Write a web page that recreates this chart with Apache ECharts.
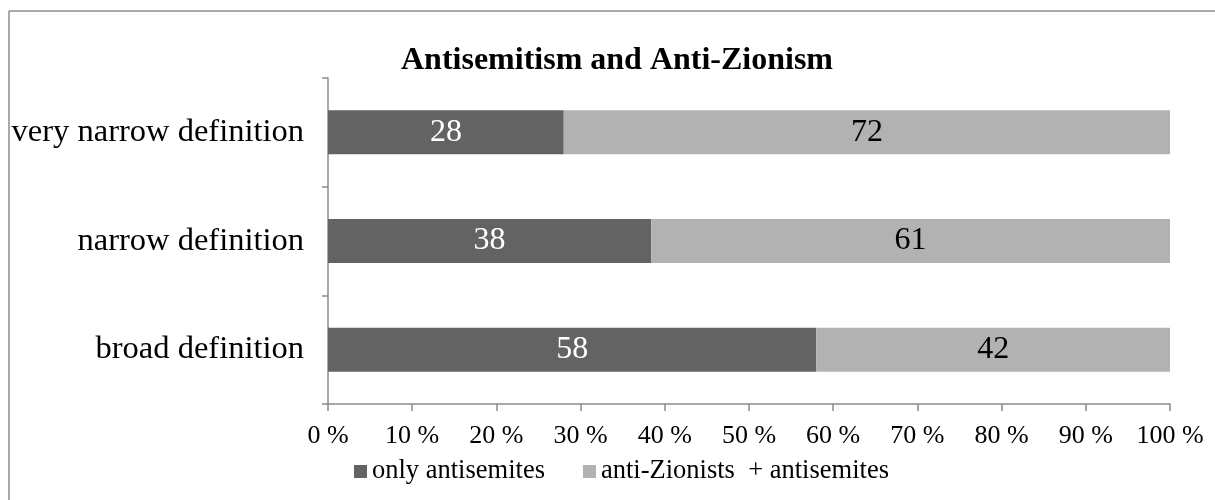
<!DOCTYPE html>
<html>
<head>
<meta charset="utf-8">
<script src="https://cdn.jsdelivr.net/npm/echarts@6/dist/echarts.min.js"></script>
<style>
  html, body { margin: 0; padding: 0; background: #fff; }
  #chart { width: 1215px; height: 500px; }
</style>
</head>
<body>
<div id="chart"></div>
<script>
  // categories, bottom to top
  const categories = ['broad definition', 'narrow definition', 'very narrow definition']
  const seriesNames = ['only antisemites', 'anti-Zionists  + antisemites']
  const onlyAntisemites = [58, 38, 28]
  const antiZionists = [42, 61, 72]
  const tickLabels = ['0 %', '10 %', '20 %', '30 %', '40 %', '50 %', '60 %', '70 %', '80 %', '90 %', '100 %']

  // 100% stacked: bar length is share of row total
  const totals = onlyAntisemites.map((v, i) => v + antiZionists[i])
  const share = arr => arr.map((v, i) => v / totals[i] * 100)

  const chart = echarts.init(document.getElementById('chart'))
  const font = '"Liberation Serif", "Times New Roman", serif'
  const axisGray = '#8c8c8c'

  const option = {
    animation: false,
    textStyle: { fontFamily: font },
    title: {
      text: 'Antisemitism and Anti-Zionism',
      left: 612,
      textAlign: 'center',
      top: 40,
      textStyle: { fontFamily: font, fontSize: 32, fontWeight: 'bold', color: '#000' }
    },
    legend: {
      left: 349,
      top: 453,
      icon: 'rect',
      itemWidth: 13,
      itemHeight: 13,
      itemGap: 38,
      textStyle: { fontFamily: font, fontSize: 26.5, color: '#000' },
      data: seriesNames
    },
    grid: { left: 328, right: 45, top: 78, bottom: 96 },
    xAxis: {
      type: 'value',
      min: 0,
      max: 100,
      interval: 10,
      axisLine: { show: true, lineStyle: { color: axisGray, width: 1.5 } },
      axisTick: { show: true, length: 7, lineStyle: { color: axisGray, width: 1.5 } },
      splitLine: { show: false },
      axisLabel: {
        fontFamily: font, fontSize: 26, color: '#000', margin: 19,
        formatter: v => tickLabels[Math.round(v / 10)]
      }
    },
    yAxis: {
      type: 'category',
      data: categories,
      axisLine: { show: true, lineStyle: { color: axisGray, width: 1.5 } },
      axisTick: { show: true, length: 6, lineStyle: { color: axisGray, width: 1.5 } },
      axisLabel: { fontFamily: font, fontSize: 32.5, color: '#000', margin: 24 }
    },
    series: [
      {
        name: seriesNames[0],
        type: 'bar',
        stack: 'total',
        barWidth: 44,
        itemStyle: { color: '#636363' },
        label: {
          show: true, position: 'inside', color: '#fff', fontFamily: font, fontSize: 32,
          formatter: p => onlyAntisemites[p.dataIndex]
        },
        data: share(onlyAntisemites)
      },
      {
        name: seriesNames[1],
        type: 'bar',
        stack: 'total',
        barWidth: 44,
        itemStyle: { color: '#b2b2b2' },
        label: {
          show: true, position: 'inside', color: '#000', fontFamily: font, fontSize: 32,
          formatter: p => antiZionists[p.dataIndex]
        },
        data: share(antiZionists)
      }
    ],
    // outer frame (only left and top edges are visible in the picture)
    graphic: [
      { type: 'line', shape: { x1: 9, y1: 11, x2: 1215, y2: 11 }, style: { stroke: '#8c8c8c', lineWidth: 1.5 } },
      { type: 'line', shape: { x1: 9, y1: 11, x2: 9, y2: 500 }, style: { stroke: '#8c8c8c', lineWidth: 1.5 } }
    ]
  }
  chart.setOption(option)
</script>
</body>
</html>
